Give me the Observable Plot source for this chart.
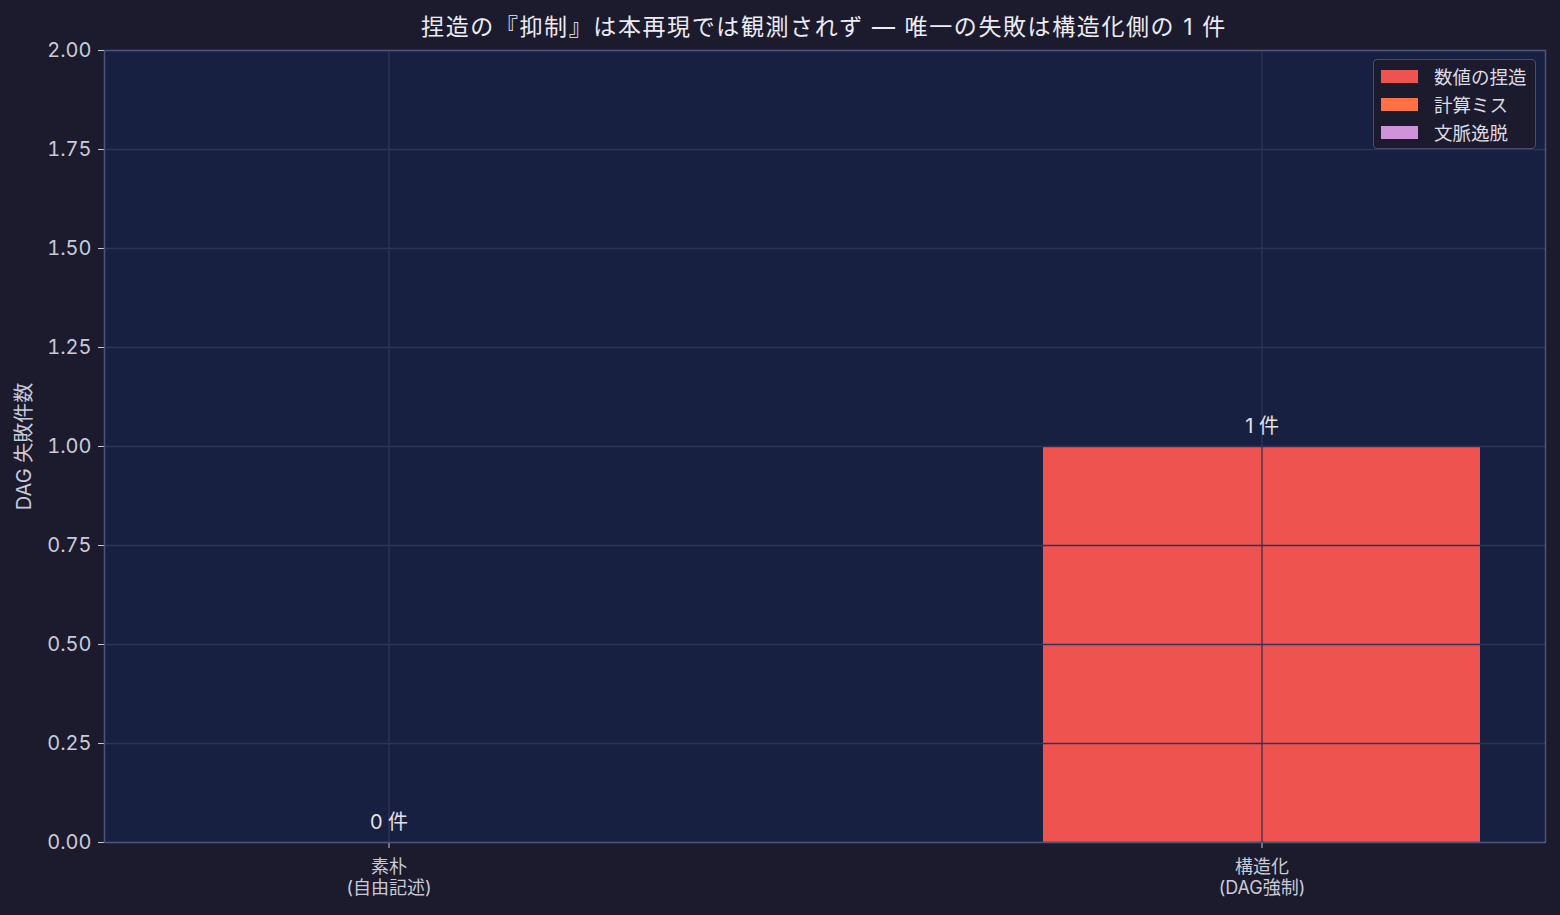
<!DOCTYPE html>
<html><head><meta charset="utf-8">
<script src="https://cdn.jsdelivr.net/npm/d3@7"></script>
<script src="https://cdn.jsdelivr.net/npm/@observablehq/plot@0.6"></script>
<style>
html,body{margin:0;padding:0;background:#1c1a2d;width:1560px;height:915px;overflow:hidden;font-family:Inter,"Noto Sans CJK JP",sans-serif;}
#wrap{position:relative;width:1560px;height:915px;}
#title{position:absolute;left:0;top:12px;width:1648px;text-align:center;color:#ececf4;font-size:23px;line-height:30px;letter-spacing:1.6px;}
#legend{position:absolute;left:1373px;top:59px;width:163px;height:90px;border:1px solid #474d6b;border-radius:4px;background:#1c1a2d;box-sizing:border-box;padding:2px 0 0 7px;}
.row{display:flex;align-items:center;height:28px;color:#dcdce6;font-size:18.5px;}
.sw{width:37px;height:13px;margin-right:16px;}
</style></head>
<body>
<div id="wrap"><div id="chart"></div><div id="title">捏造の『抑制』は本再現では観測されず — 唯一の失敗は構造化側の 1 件</div><div id="legend"></div></div>
<script>
const categories = ["素朴\n(自由記述)", "構造化\n(DAG強制)"];
const seriesNames = ["数値の捏造", "計算ミス", "文脈逸脱"];
const seriesColors = ["#ef5350", "#ff7043", "#ce93d8"];
const fabrication = [0, 1];
const calcError = [0, 0];
const offContext = [0, 0];
const totalLabels = ["0 件", "1 件"];
const yTicks = [0, 0.25, 0.5, 0.75, 1, 1.25, 1.5, 1.75, 2];

const seriesValues = [fabrication, calcError, offContext];
const rows = [];
seriesNames.forEach((s, i) => categories.forEach((c, j) => rows.push({cat: c, series: s, value: seriesValues[i][j]})));
const totals = categories.map((c, j) => ({cat: c, total: seriesValues.reduce((a, v) => a + v[j], 0), label: totalLabels[j]}));

const grid = "#2b3459";
const font = 'Inter,"Noto Sans CJK JP",sans-serif';
const chart = Plot.plot({
  width: 1560, height: 915,
  marginTop: 50, marginBottom: 73, marginLeft: 104, marginRight: 15,
  style: {background: "transparent", color: "#c9cad8", fontFamily: font, fontSize: "20px"},
  x: {domain: categories, paddingInner: 0.5, paddingOuter: 0.075, align: 0.5},
  y: {domain: [0, 2]},
  color: {domain: seriesNames, range: seriesColors},
  marks: [
    Plot.frame({fill: "#172041", stroke: null}),
    Plot.barY(rows, {x: "cat", y: "value", fill: "series", order: seriesNames}),
    Plot.gridY(yTicks, {stroke: grid, strokeOpacity: 1, strokeWidth: 1.3}),
    Plot.gridX(categories, {stroke: grid, strokeOpacity: 1, strokeWidth: 1.3}),
    Plot.text(totals, {x: "cat", y: "total", text: "label", dy: -20, fill: "#e2e2ec", fontSize: 20}),
    Plot.axisY({ticks: yTicks, tickFormat: d3.format(".2f"), tickSize: 6, tickPadding: 7, stroke: "#c9cad8", fontSize: 20,
      label: "DAG 失敗件数", labelAnchor: "center", labelArrow: "none", labelOffset: 88}),
    Plot.axisX({tickSize: 6, tickPadding: 10, stroke: "#c9cad8", fontSize: 18, label: null, lineHeight: 1.15}),
    Plot.frame({stroke: "#4c5478", strokeWidth: 1.5})
  ]
});
document.getElementById("chart").appendChild(chart);

const lg = document.getElementById("legend");
seriesNames.forEach((s, i) => {
  const r = document.createElement("div"); r.className = "row";
  r.innerHTML = `<div class="sw" style="background:${seriesColors[i]}"></div><span>${s}</span>`;
  lg.appendChild(r);
});
</script>
</body></html>
